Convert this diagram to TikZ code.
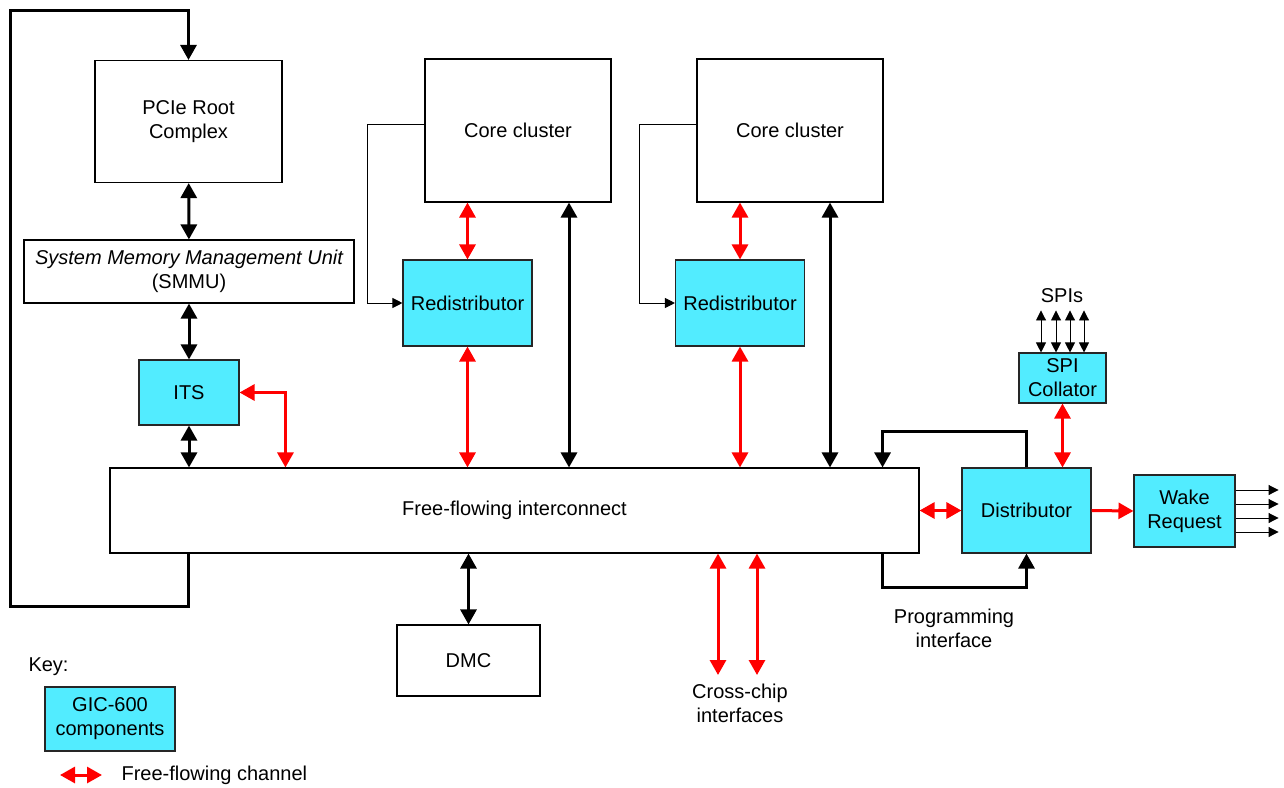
\documentclass[tikz,border=0pt]{standalone}
\usepackage{fontspec}
\setmainfont{Liberation Sans}
\usetikzlibrary{arrows.meta,calc}
\definecolor{mycyan}{RGB}{82,236,255}
\definecolor{myred}{RGB}{255,0,0}
\newcommand{\widthcore}{186pt}
\newcommand{\heightcore}{143pt}
\newcommand{\widthredist}{129pt}
\newcommand{\heightredist}{86pt}
\newcommand{\tipbig}{Triangle[length=15pt,width=16pt]}
\newcommand{\tipsmall}{Triangle[length=10pt,width=10pt]}
\tikzset{
    common/.style={draw, rectangle, line width=1.1pt, inner sep=0pt, align=center, font=\fontsize{20}{24}\selectfont},
    plain/.style={common, fill=white},
    gic/.style={common, draw=black!85, fill=mycyan},
    txt/.style={align=center, font=\fontsize{20}{24}\selectfont},
    bus/.style={line width=3pt, {\tipbig}-{\tipbig}},
    busto/.style={line width=3pt, -{\tipbig}},
    chan/.style={bus, myred},
    chanto/.style={busto, myred},
    wire/.style={line width=0.9pt, -{\tipsmall}},
    wires/.style={line width=0.9pt, {\tipsmall}-{\tipsmall}}
}

\begin{document}
\begin{tikzpicture}[x=1pt, y=-1pt]
    \useasboundingbox (0,0) rectangle (1284,787);

    % blocks
    \path
        (188.5,121.5) node[plain, minimum width=187pt, minimum height=122pt] (pcie) {PCIe Root\\Complex}
        (189,271.5) node[plain, minimum width=330pt, minimum height=63pt] (smmu) {{\itshape System Memory Management Unit}\\(SMMU)}
        (189,392.5) node[gic, minimum width=100pt, minimum height=65pt] (its) {ITS}
        (514.5,510.5) node[plain, minimum width=809pt, minimum height=85pt] (ic) {Free-flowing interconnect}
        (518,130.5) node[plain, minimum width=\widthcore, minimum height=\heightcore] (coreA) {Core cluster}
        (790,130.5) node[plain, minimum width=\widthcore, minimum height=\heightcore] (coreB) {Core cluster}
        (467.5,303) node[gic, minimum width=\widthredist, minimum height=\heightredist] (redistA) {Redistributor}
        (740,303) node[gic, minimum width=\widthredist, minimum height=\heightredist] (redistB) {Redistributor}
        (1062.5,378) node[gic, minimum width=87pt, minimum height=50pt] (spi) {SPI\\Collator}
        (1026.5,510.5) node[gic, minimum width=129pt, minimum height=85pt] (dist) {Distributor}
        (1184.5,511) node[gic, minimum width=101pt, minimum height=72pt] (wake) {Wake\\Request}
        (468.5,660.5) node[plain, minimum width=143pt, minimum height=71pt] (dmc) {DMC};

    % labels
    \node[txt] (spis) at (1062,296) {SPIs};
    \node[txt] (xchip) at (740,703) {Cross-chip\\interfaces};
    \node[txt] (prog) at (954,628) {Programming\\interface};

    % key
    \node[txt, anchor=west] (key) at (25,667) {Key:};
    \node[gic, minimum width=130pt, minimum height=64pt] (keybox) at (110,719) {GIC-600\\components};
    \coordinate (keyL) at (60,775);
    \coordinate (keyR) at (102,775);
    \draw[chan] (keyL) -- (keyR);
    \node[txt, anchor=west] (keytxt) at (118,775) {Free-flowing channel};

    % left loop back to the PCIe root complex
    \coordinate (loopNW) at (10,10);
    \draw[busto] (pcie.south |- ic.south) -- ++(0,53) -| (loopNW) -| (pcie.north);

    % vertical buses
    \draw[bus] (pcie) -- (smmu);
    \draw[bus] (smmu) -- (its);
    \draw[bus] (its.south) -- (its.south |- ic.north);
    \draw[chan] (its.east) -| ([xshift=176pt]ic.north west);

    \draw[chan] (redistA.north) -- (redistA.north |- coreA.south);
    \draw[chan] (redistA.south) -- (redistA.south |- ic.north);
    \draw[bus] ([xshift=51pt]coreA.south) -- ([xshift=51pt]coreA.south |- ic.north);
    \draw[wire] ([yshift=6pt]coreA.west) -- ++(-57,0) |- (redistA.west);

    \draw[chan] (redistB.north) -- (redistB.north |- coreB.south);
    \draw[chan] (redistB.south) -- (redistB.south |- ic.north);
    \draw[bus] ([xshift=40pt]coreB.south) -- ([xshift=40pt]coreB.south |- ic.north);
    \draw[wire] ([yshift=6pt]coreB.west) -- ++(-57,0) |- (redistB.west);

    \draw[bus] (dmc.north |- ic.south) -- (dmc.north);

    % cross-chip interfaces
    \coordinate (xa) at (718,675);
    \coordinate (xb) at (757,675);
    \draw[chan] (xa |- ic.south) -- (xa);
    \draw[chan] (xb |- ic.south) -- (xb);

    % distributor
    \draw[chan] (ic.east) -- (dist.west);
    \draw[chanto] (dist.east) -- (wake.west);
    \draw[chan] (spi.south) -- (spi.south |- dist.north);
    \draw[busto] (dist.north) -- ++(0,-36) -| ([xshift=-37pt]ic.north east);
    \draw[busto] ([xshift=-37pt]ic.south east) -- ++(0,34) -| (dist.south);

    \foreach \dx in {-21.5,-6.5,7.5,21.5}
        \draw[wires] ([xshift=\dx pt]spi.north) -- ++(0,-42);
    \foreach \dy in {21,7,-7,-21}
        \draw[wire] ([yshift=\dy pt]wake.east) -- ++(43,0);
\end{tikzpicture}
\end{document}
